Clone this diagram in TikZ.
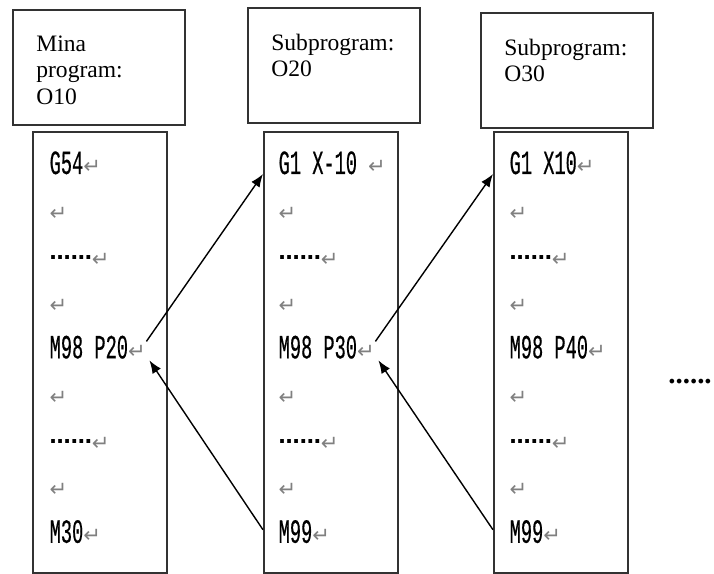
\documentclass[tikz,border=0pt]{standalone}
\usepackage{fontspec}
\setmainfont{Liberation Serif}
\newfontfamily\codefont[FakeStretch=0.55,FakeBold=0.4]{Liberation Mono}
\newfontfamily\symfont{DejaVu Sans}
\usetikzlibrary{arrows.meta,calc}

\definecolor{retgray}{RGB}{128,128,128}
\definecolor{boxline}{RGB}{50,50,50}

% gray paragraph mark and the wide ellipsis used in the listings
\newcommand{\ret}{{\symfont\fontsize{12}{12}\selectfont\color{retgray}↵}}
\newcommand{\ellip}{\raisebox{4pt}{\symfont\bfseries\fontsize{12}{12}\selectfont ……}}
% heading text, hung from the top of its box
\newcommand{\headtext}[1]{\parbox[t][1.26cm][t]{2.5cm}{#1}}

\tikzset{
  head/.style={draw=boxline,line width=1pt,anchor=north west,
    inner xsep=0.47cm,inner ysep=0.52cm,align=left,
    font=\fontsize{13.4}{15}\selectfont},
  progbox/.style={draw=boxline,line width=1pt,anchor=north west,
    minimum width=2.68cm,minimum height=8.82cm},
  codeline/.style={anchor=base west,inner sep=0pt,
    font=\codefont\fontsize{19.3}{20}\selectfont},
}

\begin{document}
\begin{tikzpicture}[x=0.02cm,y=-0.02cm,line width=0.8pt,
    >={Latex[length=2.6mm,width=2mm]}]
  \useasboundingbox (0,0) rectangle (714,574);

  % headings
  \node[head] (h1) at (12,9) {\headtext{Mina\\program:\\O10}};
  \node[head] (h2) at (247,7) {\headtext{Subprogram:\\O20}};
  \node[head] (h3) at (480,12) {\headtext{Subprogram:\\O30}};

  % program listings
  \node[progbox] (prog1) at (32,131) {};
  \node[progbox] (prog2) at (263,131) {};
  \node[progbox] (prog3) at (493,131) {};

  \foreach [count=\i from 0] \txt in {G54,,\ellip,,M98 P20,,\ellip,,M30}
    \node[codeline] (l1-\i) at ($(prog1.north west)+(17,43+46.1*\i)$) {\txt\ret};
  \foreach [count=\i from 0] \txt in {G1 X-10\ ,,\ellip,,M98 P30,,\ellip,,M99}
    \node[codeline] (l2-\i) at ($(prog2.north west)+(15,43+46.1*\i)$) {\txt\ret};
  \foreach [count=\i from 0] \txt in {G1 X10,,\ellip,,M98 P40,,\ellip,,M99}
    \node[codeline] (l3-\i) at ($(prog3.north west)+(16,43+46.1*\i)$) {\txt\ret};

  % calls and returns
  \draw[->] ($(l1-4.base east)+(0,-17)$) -- (prog2.west |- l2-0.base);
  \draw[->] ($(prog2.west |- l2-8.base)+(0,-13)$) -- ($(l1-4.base east)+(3,2)$);
  \draw[->] ($(l2-4.base east)+(0,-17)$) -- (prog3.west |- l3-0.base);
  \draw[->] ($(prog3.west |- l3-8.base)+(0,-13)$) -- ($(l2-4.base east)+(3,2)$);

  \node[font=\bfseries\fontsize{16.5}{16.5}\selectfont] (more) at (690,382) {......};
\end{tikzpicture}
\end{document}
